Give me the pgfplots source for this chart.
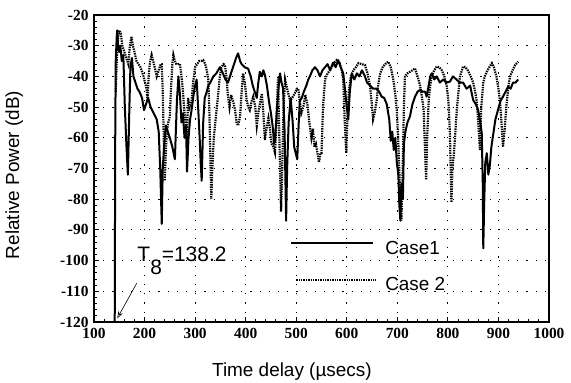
\documentclass[border=0pt]{standalone}
\usepackage{fontspec}
\setmainfont{Liberation Sans}
\newfontfamily\tickfont{Liberation Serif}
\usepackage{pgfplots}
\pgfplotsset{compat=1.18}
\usetikzlibrary{arrows.meta}
\begin{document}
\begin{tikzpicture}
\useasboundingbox (-94bp,-61bp) rectangle (477bp,322bp);
\begin{axis}[
 scale only axis, width=455bp, height=307bp,
 xmin=100,xmax=1000,ymin=-120,ymax=-20,
 xtick={100,200,...,1000}, ytick={-120,-110,...,-20},
 minor x tick num=4, minor y tick num=4,
 tick align=inside, xtick pos=bottom, ytick pos=left,
 major tick length=5bp, minor tick length=3bp,
 grid=major, major grid style={black, line width=0.9bp, dash pattern=on 1.2bp off 8bp},
 axis line style={line width=1.8bp},
 every tick/.style={black, line width=1bp},
 /pgf/number format/assume math mode=true,
 /pgf/number format/set thousands separator={},
 tick label style={font=\tickfont\bfseries\fontsize{15.5}{15.5}\selectfont},
 xticklabel style={yshift=-3bp},
 yticklabel style={xshift=-2bp},
 xlabel={Time delay (µsecs)},
 ylabel={Relative Power (dB)},
 label style={font=\fontsize{19}{19}\selectfont},
 xlabel style={at={(axis description cs:0.435,-0.1759)}, anchor=base},
 ylabel style={at={(axis description cs:-0.1648,0.479)}, anchor=base},
 legend style={draw=none, fill=none, at={(axis cs:487.7,-102.0)}, anchor=west,
   font=\fontsize{19}{19}\selectfont, row sep=22bp, inner sep=0pt,
   nodes={inner sep=0pt}, /tikz/every odd column/.append style={column sep=8bp}},
 legend cell align=left,
]
\addplot[black, line width=2bp, line join=round,
 legend image code/.code={\draw[black,line width=2bp] (0bp,5bp)--(82bp,5bp);}] table {
141 -120
142 -60
143 -35
145 -27
146 -25
148 -31
150 -32
152 -30
155 -35
158 -33
161 -50
164 -62
167 -72
170 -50
172 -37
175 -34
178 -40
182 -42
186 -44
190 -45
195 -47
199 -51
203 -49
207 -47
212 -50
218 -52
224 -54
228 -58
231 -70
234 -88
236 -70
239 -62
242 -56
246 -58
250 -60
255 -63
260 -67
264 -48
267 -40
270 -46
273 -55
276 -52
279 -60
282 -56
284 -71
287 -60
290 -54
293 -51
297 -46
300 -43
303 -41
306 -50
309 -60
311 -68
313 -74
316 -55
319 -47
323 -45
326 -43
330 -42
336 -40
342 -39
349 -37
355 -39
360 -41
365 -42
369 -40
372 -38.5
377 -36
381 -34
385 -32.5
389 -35
392 -36
398 -37
405 -37.5
410 -40
414 -43
418 -45
422 -47
425 -42
428 -38.5
432 -40
435 -38
438 -39.5
442 -43
446 -48
450 -52
454 -57
456 -62
458 -61
462 -50
466 -42
468 -39
471 -42
474 -44
477 -58
480 -87
482 -70
485 -55
489 -47
493 -55
496 -63
499 -65
502 -67
505 -55
507 -48
511 -47
515 -45
520 -43
524 -41
527 -40
532 -38
537 -37
542 -38
547 -40
552 -38
557 -37
562 -36
567 -38
573 -35.5
578 -37
583 -34.7
588 -37
593 -39
597 -45
600 -50
603 -54
606 -45
610 -39
615 -41
620 -39
625 -40
630 -38
636 -40
640 -42
646 -43
652 -44
659 -44
664 -45
669 -46.6
674 -47
679 -49
684 -54
687 -61
690 -58
693 -64
696 -60
699 -68
702 -72
704 -82
706 -87
708 -75
711 -80
713 -62
716 -58
720 -55
725 -53
730 -49
735 -46.6
740 -45
745 -44.4
750 -45
755 -45
758 -46.6
762 -43
765 -40
768 -39
773 -41
778 -40
784 -42
791 -41
797 -42
804 -41.7
810 -40
817 -41
823 -42
830 -42
837 -44
844 -43
850 -47.7
855 -49
860 -51
864 -55
867 -58.5
869 -75
870 -96
872 -80
874 -68
877 -65
880 -72
883 -69
886 -63
890 -58.5
894 -54
899 -51
904 -48
909 -46.6
914 -45
919 -43.4
924 -44
929 -42
934 -42
939 -41
};
\addlegendentry{Case1}
\addplot[black, line width=2.2bp, dash pattern=on 1.4bp off 1bp,
 legend image code/.code={\draw[black,line width=2.2bp, dash pattern=on 1.4bp off 1bp] (5bp,5bp)--(85bp,5bp);}] table {
143 -45
145 -35
148 -27
150 -25
153 -26
156 -30
160 -32
164 -34
168 -36
171 -30
174 -27
177 -30
180 -32
184 -35
188 -36
192 -37
194 -38
198 -40
201 -42
204 -44
206 -48
208 -40
211 -35
214 -33
217 -35
220 -37
224 -40
228 -38
232 -36
234 -36
236 -45
238 -60
240 -74
242 -65
244 -58
247 -55
250 -53
252 -45
255 -36
257 -33
260 -35
263 -36
266 -36
270 -36
273 -40
276 -45
279 -52
282 -56
284 -60
286 -47
289 -50
293 -48
296 -42
300 -37
304 -36
308 -35
312 -35
316 -34.7
320 -36
323 -38
326 -41
328 -50
330 -65
332 -80
334 -70
337 -60
340 -55
343 -50
346 -45
349 -40
352 -37
356 -36
359 -36.3
362 -40
365 -46.6
368 -50
371 -46
375 -48
379 -51
382 -55
385 -56
389 -53
392 -45
395 -39
399 -43
402 -47.7
405 -50
408 -51
412 -48
415 -46.6
419 -50
422 -56
425 -52
429 -48
432 -45.6
435 -52
438 -60.7
441 -57
445 -53.6
448 -57
451 -61.8
455 -63
458 -64.8
461 -55
464 -40
466 -55
468 -70
470 -84
472 -72
475 -50
478 -41
482 -44
485 -46
488 -48
492 -47
497 -45.6
501 -44
504 -44
507 -48
510 -52
514 -50
518 -46
522 -49
526 -55
530 -60
533 -57
536 -63
539 -62
542 -65
545 -68
548 -65
550 -65
553 -50
557 -41
562 -39
567 -38
573 -36
580 -34.7
586 -35.7
590 -38
593 -41
596 -55
599 -65
601 -55
604 -45
608 -40
613 -38
618 -37
623 -35.7
630 -36
636 -36.3
641 -39
646 -43
649 -48
652 -54
655 -52
659 -48
662 -43
666 -39
671 -37
676 -36
682 -35.2
687 -37
692 -41
696 -46
699 -51
702 -62
705 -76
708 -87
710 -75
713 -50
715 -40
720 -39
725 -38.5
730 -38
735 -37.4
740 -40
745 -43
749 -47
752 -51
755 -65
757 -73.7
759 -60
762 -48
765 -43
768 -40
773 -38
778 -36.8
783 -37
788 -38
793 -40
798 -43.4
801 -48
804 -58.5
807 -81
809 -70
812 -65
814 -60
818 -50
821 -45
824 -40
830 -36.8
835 -37
840 -38.2
845 -40
850 -42
854 -45
857 -48
860 -55
863.5 -64
866 -50
870 -42
873 -40
877 -38.5
882 -37
887 -35.7
891 -37
896 -40
900 -44
903 -48
906 -55
909 -63
912 -58
916 -49
920 -43
923 -40
928 -38
933 -36.3
939 -35.2
};
\addlegendentry{Case 2}
\node[anchor=base west, font=\fontsize{21}{21}\selectfont, inner sep=0pt] at (axis cs:185.6,-100.4) {T\raisebox{-0.6em}{8}=138.2};
\draw[-{Stealth[open, length=7bp, width=5bp]}, line width=0.6bp] (axis cs:184.4,-107.4) -- (axis cs:146,-118.8);
\end{axis}
\end{tikzpicture}
\end{document}
